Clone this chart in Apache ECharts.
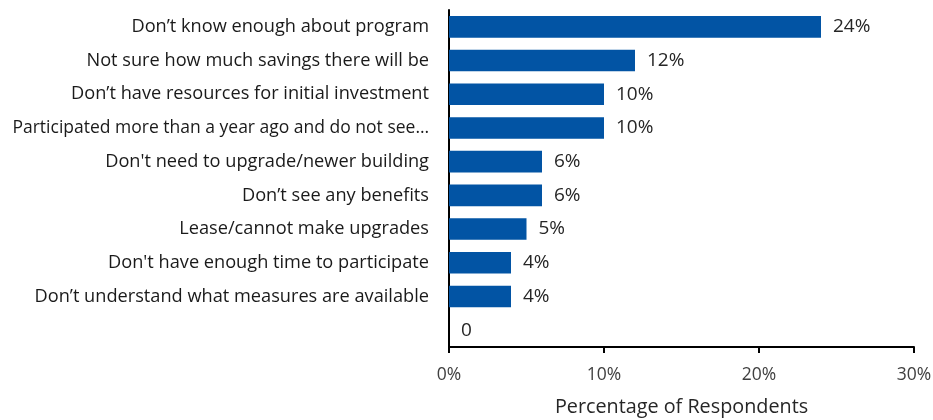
<!DOCTYPE html>
<html>
<head>
<meta charset="utf-8">
<script src="https://cdn.jsdelivr.net/npm/echarts@6/dist/echarts.min.js"></script>
<style>
  html, body { margin: 0; padding: 0; background: #fff; }
  #chart { width: 933px; height: 420px; }
</style>
</head>
<body>
<div id="chart"></div>
<script>
// Reasons for not participating, top to bottom
const categories = [
  "Don\u2019t know enough about program",
  "Not sure how much savings there will be",
  "Don\u2019t have resources for initial investment",
  "Participated more than a year ago and do not see\u2026",
  "Don't need to upgrade/newer building",
  "Don\u2019t see any benefits",
  "Lease/cannot make upgrades",
  "Don't have enough time to participate",
  "Don\u2019t understand what measures are available",
  ""
];
const percentValues = [24, 12, 10, 10, 6, 6, 5, 4, 4, 0];
const valueLabels = ["24%", "12%", "10%", "10%", "6%", "6%", "5%", "4%", "4%", "0"];
const xTicks = [0, 10, 20, 30];

const FONT = "'Open Sans', sans-serif";

// the truncated long reason gets a slightly tighter size so it fits the margin
const categoryData = categories.map(c => c.length > 45
  ? { value: c, textStyle: { fontSize: 17.5 } }
  : c);

const chart = echarts.init(document.getElementById('chart'), null, { renderer: 'canvas' });
chart.setOption({
  animation: false,
  grid: {
    left: 449, right: 19, top: 10, bottom: 73,
    containLabel: false,
    outerBoundsMode: 'none'
  },
  xAxis: {
    type: 'value',
    min: xTicks[0],
    max: xTicks[xTicks.length - 1],
    interval: xTicks[1] - xTicks[0],
    name: 'Percentage of Respondents',
    nameLocation: 'middle',
    nameGap: 50,
    nameTextStyle: { fontFamily: FONT, fontSize: 19.8, color: '#262626' },
    axisLine: { show: true, lineStyle: { color: '#000', width: 2 } },
    axisTick: { show: true, length: 6, lineStyle: { color: '#000', width: 2 } },
    axisLabel: {
      fontFamily: FONT, fontSize: 17.5, color: '#404040', margin: 19,
      formatter: v => v + '%'
    },
    splitLine: { show: false }
  },
  yAxis: {
    type: 'category',
    inverse: true,
    data: categoryData,
    axisLine: { show: true, lineStyle: { color: '#000', width: 2 } },
    axisTick: { show: false },
    axisLabel: {
      fontFamily: FONT, fontSize: 18.2, color: '#1a1a1a', margin: 20,
      padding: [9, 0, 0, 0]
    }
  },
  series: [{
    type: 'bar',
    data: percentValues,
    barWidth: '64%',
    itemStyle: { color: '#0254A4' },
    label: {
      show: true,
      position: 'right',
      distance: 12,
      padding: [8, 0, 0, 0],
      fontFamily: FONT, fontSize: 19, color: '#262626',
      formatter: p => valueLabels[p.dataIndex]
    }
  }]
});
</script>
</body>
</html>
